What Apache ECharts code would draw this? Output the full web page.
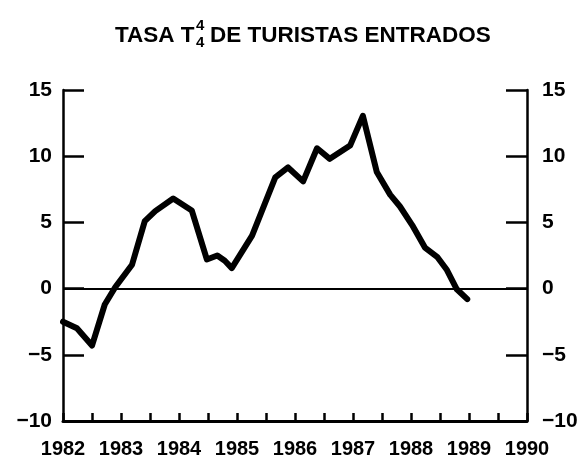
<!DOCTYPE html>
<html>
<head>
<meta charset="utf-8">
<script src="https://cdn.jsdelivr.net/npm/echarts@6/dist/echarts.min.js"></script>
<style>
  html, body { margin: 0; padding: 0; background: #fff; }
  #chart { width: 585px; height: 459px; }
</style>
</head>
<body>
<div id="chart"></div>
<script>
// Observation dates (decimal years) and values of the tasa T4/4
const dates = [1982.0, 1982.24, 1982.5, 1982.72, 1982.9, 1983.19, 1983.41, 1983.59, 1983.9, 1984.22,
               1984.48, 1984.66, 1984.79, 1984.91, 1985.26, 1985.66, 1985.88, 1986.14, 1986.38, 1986.6,
               1986.95, 1987.17, 1987.41, 1987.64, 1987.81, 1988.02, 1988.24, 1988.45, 1988.62, 1988.79, 1988.97];
const values = [-2.5, -3.0, -4.3, -1.2, 0.1, 1.8, 5.1, 5.85, 6.8, 5.9,
                2.2, 2.5, 2.1, 1.55, 4.0, 8.4, 9.15, 8.1, 10.6, 9.8,
                10.8, 13.05, 8.8, 7.1, 6.2, 4.8, 3.1, 2.4, 1.4, -0.05, -0.8];
const yearLabels = [1982, 1983, 1984, 1985, 1986, 1987, 1988, 1989, 1990];
const yTicks = [-10, -5, 0, 5, 10, 15];

const titleMain1 = 'TASA T';
const titleSup = '4';
const titleSub = '4';
const titleMain2 = 'DE TURISTAS ENTRADOS';

const chart = echarts.init(document.getElementById('chart'), null, { renderer: 'canvas' });

const labelFont = { fontFamily: 'Liberation Sans', fontWeight: 'bold', fontSize: 20, color: '#000' };
const yAxisCommon = {
  type: 'value',
  min: yTicks[0],
  max: yTicks[yTicks.length - 1],
  interval: 5,
  axisLine: { show: true, lineStyle: { color: '#000', width: 2.5 } },
  axisTick: { show: true, inside: true, length: 21, lineStyle: { color: '#000', width: 2.5 } },
  splitLine: { show: false },
  axisLabel: Object.assign({}, labelFont, {
    fontSize: 21,
    formatter: v => (v < 0 ? '\u2212' + Math.abs(v) : String(v)),
    padding: [0, 0, 15, 0]
  })
};

const option = {
  animation: false,
  backgroundColor: '#fff',
  grid: { left: 63, right: 58, top: 90, bottom: 35, containLabel: false },
  xAxis: {
    type: 'value',
    min: yearLabels[0],
    max: yearLabels[yearLabels.length - 1],
    interval: 0.5,
    axisLine: { show: true, onZero: false, lineStyle: { color: '#000', width: 3 } },
    axisTick: { show: true, inside: true, length: 8, lineStyle: { color: '#000', width: 2.5 } },
    splitLine: { show: false },
    axisLabel: Object.assign({}, labelFont, {
      margin: 18,
      showMinLabel: true,
      showMaxLabel: true,
      formatter: v => (yearLabels.indexOf(Math.round(v * 2) / 2) >= 0 ? String(v) : '')
    })
  },
  yAxis: [
    Object.assign({}, yAxisCommon, { position: 'left', axisLabel: Object.assign({}, yAxisCommon.axisLabel, { margin: 11 }) }),
    Object.assign({}, yAxisCommon, { position: 'right', axisLabel: Object.assign({}, yAxisCommon.axisLabel, { margin: 15 }) })
  ],
  graphic: [
    { type: 'text', left: 115, top: 24, style: { text: titleMain1, font: 'bold 22.5px "Liberation Sans"', fill: '#000' } },
    { type: 'text', left: 196, top: 18, style: { text: titleSup, font: 'bold 15px "Liberation Sans"', fill: '#000' } },
    { type: 'text', left: 196, top: 35, style: { text: titleSub, font: 'bold 15px "Liberation Sans"', fill: '#000' } },
    { type: 'text', left: 210, top: 24, style: { text: titleMain2, font: 'bold 22.5px "Liberation Sans"', fill: '#000' } }
  ],
  series: [{
    type: 'line',
    yAxisIndex: 0,
    data: dates.map((d, i) => [d, values[i]]),
    showSymbol: false,
    symbol: 'none',
    smooth: false,
    lineStyle: { color: '#000', width: 6, join: 'round', cap: 'round' },
    markLine: {
      silent: true,
      symbol: 'none',
      label: { show: false },
      lineStyle: { color: '#000', width: 2, type: 'solid' },
      data: [{ yAxis: 0 }]
    }
  }]
};

chart.setOption(option);
</script>
</body>
</html>
